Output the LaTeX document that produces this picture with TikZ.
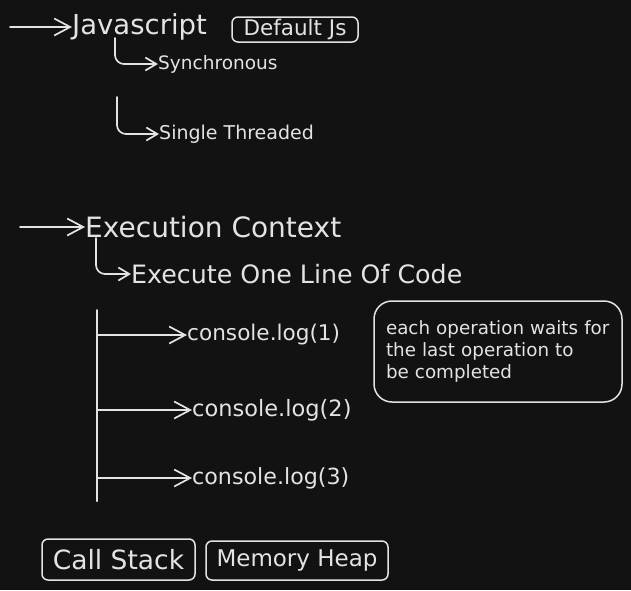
\documentclass[tikz,border=0pt]{standalone}
\usepackage{fontspec}
\setmainfont{DejaVu Sans}
\usepackage{xcolor}
\definecolor{bgdark}{HTML}{121212}
\definecolor{chalk}{HTML}{E3E3E3}
\usetikzlibrary{arrows.meta,positioning,calc}
\tikzset{
  arr/.style={draw=chalk, line width=1.7pt, line cap=round,
    -{Straight Barb[length=16pt,width=17pt,line width=1.7pt]}},
  elbow/.style={arr, rounded corners=9pt,
    -{Straight Barb[length=11pt,width=13pt,line width=1.7pt]}},
  stem/.style={draw=chalk, line width=2pt, line cap=round},
  lbl/.style={text=chalk, anchor=west, inner sep=0pt},
  tagbox/.style={rectangle, rounded corners=6pt, draw=chalk, line width=1.5pt,
    text=chalk, inner sep=0pt, align=center},
  notebox/.style={rectangle, rounded corners=18pt, draw=chalk, line width=1.5pt,
    text=chalk, inner xsep=12pt, inner ysep=0pt, text width=224pt, align=left,
    minimum height=101pt, font=\fontsize{18.3}{22}\selectfont},
}

\begin{document}
\begin{tikzpicture}[x=1pt, y=-1pt]
  \fill[bgdark] (0,0) rectangle (631,590);
  \useasboundingbox (0,0) rectangle (631,590);

  % Javascript
  \coordinate (js0) at (10,27);
  \node[lbl, font=\fontsize{27.5}{27.5}\selectfont] (js) at (72,27) {Javascript};
  \node[tagbox, minimum width=126pt, minimum height=25pt,
    font=\fontsize{21.5}{21.5}\selectfont] (def) at (295,29.5) {Default Js};
  \draw[arr] (js0) -- (js.west);

  \node[lbl, font=\fontsize{18.5}{18.5}\selectfont] (sync) at (158,64) {Synchronous};
  \node[lbl, font=\fontsize{19}{19}\selectfont] (single) at (159,134) {Single Threaded};
  \coordinate (j1) at (115,38);
  \coordinate (j2) at (117,97);
  \draw[elbow] (j1) |- (sync.west);
  \draw[elbow] (j2) |- (single.west);

  % Execution Context
  \coordinate (ec0) at (20,227);
  \node[lbl, font=\fontsize{28}{28}\selectfont] (ec) at (85,227) {Execution Context};
  \draw[arr] (ec0) -- (ec.west);
  \node[lbl, font=\fontsize{25.3}{25.3}\selectfont] (line) at (131,274) {Execute One Line Of Code};
  \coordinate (e1) at (96,238);
  \draw[elbow] (e1) |- (line.west);

  % stack of calls
  \coordinate (vtop) at (97,310);
  \coordinate (vbot) at (97,501);
  \draw[stem] (vtop) -- (vbot);
  \node[lbl, font=\fontsize{21.6}{21.6}\selectfont] (c1) at (187,335) {console.log(1)};
  \node[lbl, font=\fontsize{22.5}{22.5}\selectfont] (c2) at (192,410) {console.log(2)};
  \node[lbl, font=\fontsize{22.2}{22.2}\selectfont] (c3) at (192,478) {console.log(3)};
  \draw[arr] (vtop |- c1.west) -- (c1.west);
  \draw[arr] (vtop |- c2.west) -- (c2.west);
  \draw[arr] (vtop |- c3.west) -- (c3.west);

  \node[notebox] (note) at (498,351.5)
    {each operation waits for\\the last operation to\\be completed};

  % bottom tags
  \node[tagbox, minimum width=153pt, minimum height=41pt,
    font=\fontsize{26.5}{26.5}\selectfont] (cs) at (118.5,559.5) {Call Stack};
  \node[tagbox, minimum width=182pt, minimum height=39pt,
    font=\fontsize{23}{23}\selectfont] (mh) at (297,560.5) {Memory Heap};
\end{tikzpicture}
\end{document}
